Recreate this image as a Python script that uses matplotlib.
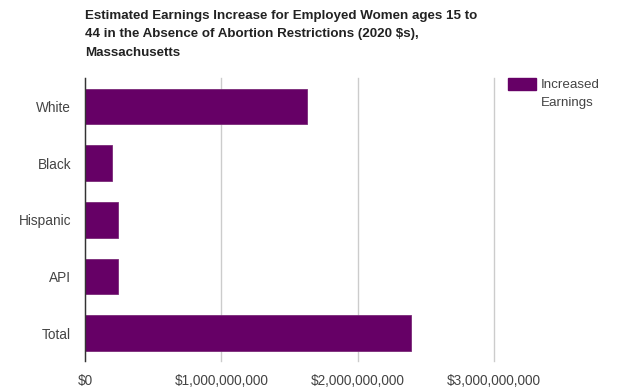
import matplotlib.pyplot as plt
from matplotlib.ticker import FuncFormatter

plt.rcParams['font.family'] = ['Liberation Sans', 'DejaVu Sans']

groups = ["White", "Black", "Hispanic", "API", "Total"]
earnings = [1.63e9, 0.20e9, 0.24e9, 0.24e9, 2.39e9]
series_name = "Increased Earnings"
x_ticks = [0, 1e9, 2e9, 3e9]

BAR_COLOR = "#660066"

fig = plt.figure(figsize=(6.17, 3.87), dpi=100)
ax = fig.add_axes([0.1378, 0.0659, 0.663, 0.7325])

pos = list(range(len(groups)))
ax.barh(pos, earnings, height=0.63, color=BAR_COLOR, edgecolor="#7a2a78",
        linewidth=0.6, zorder=3)

ax.set_ylim(len(groups) - 0.5, -0.5)
ax.set_yticks(pos)
ax.set_yticklabels(groups)
ax.set_xlim(0, 3e9)
ax.set_xticks(x_ticks)
ax.xaxis.set_major_formatter(FuncFormatter(lambda v, _: "${:,.0f}".format(v)))

ax.grid(axis="x", color="#cccccc", linewidth=1, zorder=0)
for line in ax.get_xgridlines():
    line.set_clip_on(False)
for s in ["top", "right", "bottom"]:
    ax.spines[s].set_visible(False)
ax.spines["left"].set_color("#333333")
ax.spines["left"].set_linewidth(1)
ax.spines["left"].set_zorder(4)
ax.tick_params(length=0, labelsize=9.8, colors="#444444")
ax.tick_params(axis="x", pad=9)
ax.tick_params(axis="y", pad=10)

fig.text(85 / 617, 1 - 10 / 387,
         "Estimated Earnings Increase for Employed Women ages 15 to\n"
         "44 in the Absence of Abortion Restrictions (2020 $s),\n"
         "Massachusetts",
         ha="left", va="top", fontsize=9.65, fontweight="bold",
         color="#222222", linespacing=1.72)

# legend swatch and label to the right of the plot
fig.patches.append(plt.Rectangle((508 / 617, 1 - 90 / 387), 28 / 617, 12 / 387,
                                 transform=fig.transFigure, color=BAR_COLOR))
fig.text(541 / 617, 1 - 79 / 387, "Increased\nEarnings", ha="left", va="top",
         fontsize=9.6, color="#444444", linespacing=1.7)

fig.savefig("out.png", dpi=100)
